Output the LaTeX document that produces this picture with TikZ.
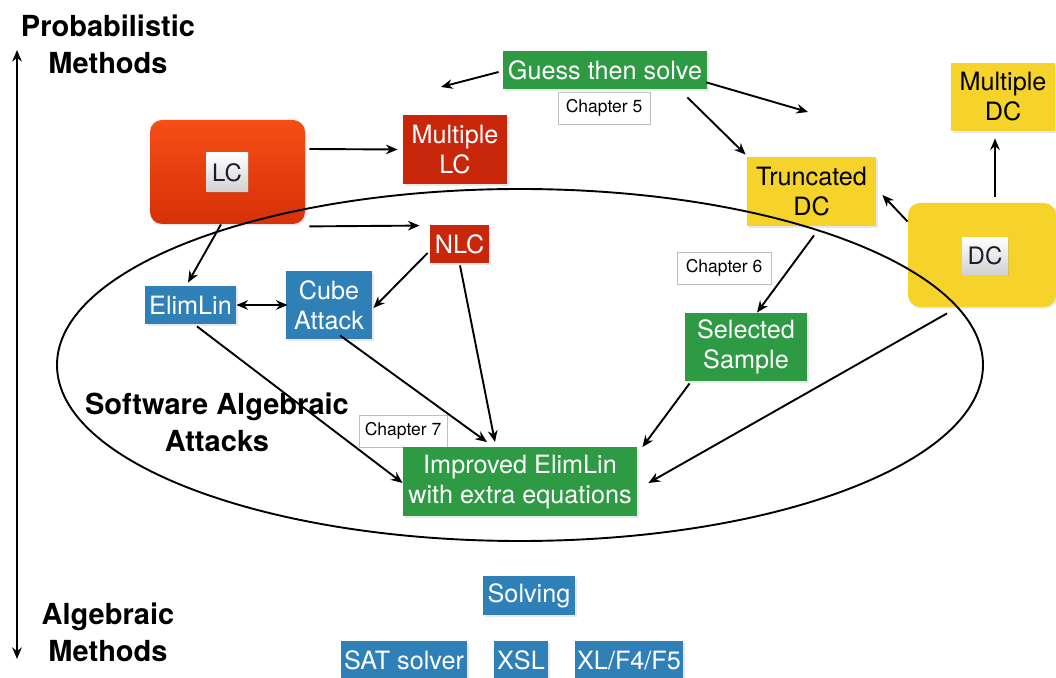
\documentclass[tikz,border=0pt]{standalone}
\usepackage{fontspec}
\setmainfont{TeX Gyre Heros}
\usetikzlibrary{arrows.meta,calc,shadows}
\definecolor{cgreen}{HTML}{2F9A44}
\definecolor{cblue}{HTML}{2F80B7}
\definecolor{cred}{HTML}{C8270C}
\definecolor{cyellow}{HTML}{F5D32A}
\definecolor{corTop}{HTML}{F64E16}
\definecolor{corBot}{HTML}{D63108}
\definecolor{cinner}{HTML}{1C1C30}
\tikzset{
  x=0.5pt,y=-0.5pt,
  box/.style={inner sep=0pt, align=center, font=\fontsize{12.6}{15}\selectfont,
     drop shadow={opacity=0.18, shadow xshift=0.8pt, shadow yshift=-0.8pt}},
  gbox/.style={box, fill=cgreen, text=white},
  bbox/.style={box, fill=cblue, text=white},
  rbox/.style={box, fill=cred, text=white},
  ybox/.style={box, fill=cyellow, text=black},
  chap/.style={inner sep=0pt, draw=black!25, line width=0.4pt, fill=white, font=\fontsize{8.75}{10}\selectfont},
  inbox/.style={inner sep=0pt, top color=white, bottom color=black!18, text=cinner,
     font=\fontsize{12}{14}\selectfont, drop shadow={opacity=0.25, shadow xshift=0.5pt, shadow yshift=-0.5pt}},
  biglabel/.style={align=center, font=\fontsize{14.5}{18.5}\selectfont\bfseries},
  arr/.style={-{Stealth[length=5.8pt,width=4.8pt]}, line width=0.95pt},
  darr/.style={{Stealth[length=5.8pt,width=4.8pt]}-{Stealth[length=5.8pt,width=4.8pt]}, line width=0.95pt},
}
\begin{document}
\begin{tikzpicture}
\useasboundingbox (0,0) rectangle (1056,678);
\fill[white] (0,0) rectangle (1056,678);

% axis
\coordinate (axtop) at (17,50);
\coordinate (axbot) at (17,659);
\draw[darr] (axbot) -- (axtop);
\node[biglabel] (prob) at (108,44) {Probabilistic\\Methods};
\node[biglabel] (alg) at (108,632) {Algebraic\\Methods};

% LC
\node[box, rounded corners=6pt, top color=corTop, bottom color=corBot, minimum width=77.5pt, minimum height=52pt] (LC) at (227.5,172) {};
\node[inbox, minimum width=21pt, minimum height=19.5pt] (LCin) at (227,172.5) {LC};
\node[rbox, minimum width=52pt, minimum height=34.5pt] (MLC) at (455,149.5) {Multiple\\LC};
\node[rbox, minimum width=29.5pt, minimum height=19pt] (NLC) at (459.5,244) {NLC};

% Guess then solve
\node[gbox, minimum width=102pt, minimum height=19pt] (GTS) at (605,70) {Guess then solve};
\node[chap, minimum width=46pt, minimum height=16pt] (CH5) at (604,108) {Chapter 5};

% DC side
\node[ybox, minimum width=64.5pt, minimum height=34.5pt] (TDC) at (811.5,191.5) {Truncated\\DC};
\node[box, rounded corners=6pt, fill=cyellow, minimum width=74pt, minimum height=52pt] (DC) at (982,255) {};
\node[inbox, minimum width=23pt, minimum height=18.5pt] (DCin) at (985,256) {DC};
\node[ybox, minimum width=52pt, minimum height=34pt] (MDC) at (1003,97) {Multiple\\DC};
\node[chap, minimum width=47pt, minimum height=16pt] (CH6) at (724,268) {Chapter 6};
\node[gbox, minimum width=61pt, minimum height=34pt] (SS) at (746,347) {Selected\\Sample};

% algebraic
\node[bbox, minimum width=45.5pt, minimum height=19pt] (EL) at (190.5,305) {ElimLin};
\node[bbox, minimum width=43pt, minimum height=34pt] (CA) at (329,305) {Cube\\Attack};
\node[chap, minimum width=44pt, minimum height=16pt] (CH7) at (403,431) {Chapter 7};
\node[gbox, minimum width=117pt, minimum height=34.5pt] (IMP) at (520,482) {Improved ElimLin\\with extra equations};
\node[biglabel] (SAA) at (217,422) {Software Algebraic\\Attacks};

% solving
\node[bbox, minimum width=46pt, minimum height=19.5pt] (SOL) at (529,595.5) {Solving};
\node[bbox, minimum width=63pt, minimum height=19.5pt] (SAT) at (404,660.5) {SAT solver};
\node[bbox, minimum width=27pt, minimum height=19.5pt] (XSL) at (521,660.5) {XSL};
\node[bbox, minimum width=54pt, minimum height=19.5pt] (XL) at (629,660.5) {XL/F4/F5};

% ellipse
\draw[line width=0.95pt] (520,365) ellipse [x radius=231.5pt, y radius=88pt];

% free ends
\coordinate (gl) at (441,87);
\coordinate (gr) at (808,112);

% arrows
\draw[arr] ($(LC.east)+(4,-23)$) -- ($(MLC.west)+(-5,0)$);
\draw[arr] ($(LC.south east)+(4,2)$) -- ($(NLC.north west)+(-10,1)$);
\draw[arr] ($(GTS.west)+(-4,2)$) -- (gl);
\draw[arr] ($(GTS.south east)+(-1,-7)$) -- (gr);
\draw[arr] ($(GTS.south east)+(-20,8)$) -- ($(TDC.north west)+(-1,-2)$);
\draw[arr] ($(DC.north)+(13,-6)$) -- ($(MDC.south)+(-8,7)$);
\draw[arr] ($(DC.north west)+(0,19)$) -- ($(TDC.east)+(6,3.5)$);
\draw[arr] ($(TDC.south)+(2.5,9)$) -- ($(SS.north)+(11,0)$);
\draw[arr] ($(SS.south west)+(5,2)$) -- ($(IMP.north east)+(5,0)$);
\draw[arr] ($(DC.south)+(-35,6)$) -- ($(IMP.east)+(11,1)$);
\draw[arr] ($(LC.south)+(-6.5,0)$) -- ($(EL.north)+(-2.5,-3)$);
\draw[darr] (EL.east) -- ($(CA.west)+(2,0)$);
\draw[arr] ($(NLC.west)+(-2,9)$) -- ($(CA.east)+(1,3)$);
\draw[arr] ($(NLC.south)+(0.5,2)$) -- ($(IMP.north)+(-25,-5)$);
\draw[arr] ($(CA.south)+(11,-4)$) -- ($(IMP.north)+(-33,-5)$);
\draw[arr] ($(EL.south)+(6.5,2)$) -- ($(IMP.west)+(0,1)$);
\end{tikzpicture}
\end{document}
